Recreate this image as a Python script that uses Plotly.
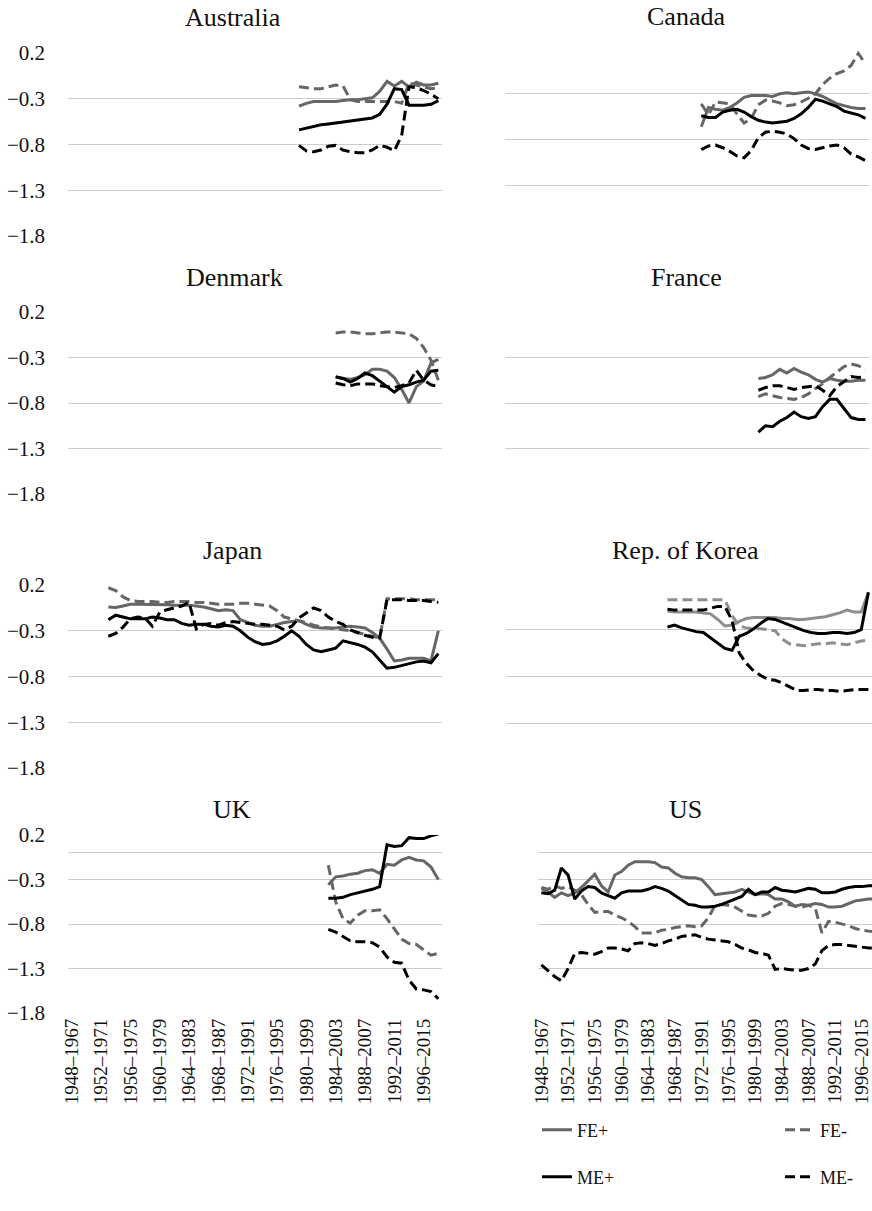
import plotly.graph_objects as go
from plotly.subplots import make_subplots

W, H = 872, 1211

# rolling 20-year windows: 1948–1967 ... 1998–2017
periods = [f"{y}–{y + 19}" for y in range(1948, 1999)]
tick_pos = list(range(0, 49, 4))
tick_text = [periods[i] for i in tick_pos]

y_ticks = [0.2, -0.3, -0.8, -1.3, -1.8]
y_tick_text = ["0.2", "−0.3", "−0.8", "−1.3", "−1.8"]

# index of the first window with data, then FE+, FE-, ME+, ME-
aus_start = 31
aus_fe_pos = [-0.38, -0.35, -0.33, -0.33, -0.33, -0.33, -0.32, -0.31, -0.31, -0.30,
              -0.29, -0.22, -0.11, -0.16, -0.11, -0.17, -0.12, -0.15, -0.15, -0.13]
aus_fe_neg = [-0.17, -0.18, -0.19, -0.19, -0.17, -0.15, -0.16, -0.31, -0.33, -0.33,
              -0.33, -0.33, -0.33, -0.33, -0.35, -0.13, -0.15, -0.17, -0.19, -0.18]
aus_me_pos = [-0.64, -0.62, -0.60, -0.585, -0.575, -0.565, -0.555, -0.545, -0.535, -0.525,
              -0.51, -0.47, -0.36, -0.19, -0.20, -0.37, -0.37, -0.37, -0.36, -0.32]
aus_me_neg = [-0.81, -0.87, -0.88, -0.86, -0.82, -0.81, -0.86, -0.88, -0.89, -0.89,
              -0.86, -0.81, -0.83, -0.87, -0.70, -0.17, -0.18, -0.21, -0.25, -0.30]

can_start = 27
can_fe_pos = [-0.66, -0.45, -0.47, -0.48, -0.45, -0.40, -0.34, -0.32, -0.32, -0.32, -0.33, -0.30,
              -0.29, -0.30, -0.29, -0.28, -0.30, -0.33, -0.37, -0.41, -0.43, -0.45, -0.46, -0.46]
can_fe_neg = [-0.41, -0.53, -0.39, -0.40, -0.41, -0.52, -0.62, -0.57, -0.42, -0.37, -0.38, -0.40,
              -0.43, -0.42, -0.39, -0.35, -0.30, -0.20, -0.13, -0.08, -0.05, 0.01, 0.14, 0.03]
can_me_pos = [-0.54, -0.56, -0.56, -0.50, -0.48, -0.47, -0.50, -0.55, -0.59, -0.61, -0.62, -0.61,
              -0.60, -0.57, -0.52, -0.45, -0.36, -0.38, -0.41, -0.44, -0.49, -0.51, -0.53, -0.57]
can_me_neg = [-0.91, -0.87, -0.86, -0.89, -0.93, -0.98, -1.00, -0.92, -0.78, -0.72, -0.71, -0.72,
              -0.74, -0.79, -0.86, -0.90, -0.91, -0.89, -0.87, -0.86, -0.89, -0.96, -0.99, -1.03]

den_start = 36
den_fe_pos = [-0.52, -0.53, -0.54, -0.52, -0.49, -0.43, -0.43, -0.45, -0.52, -0.65,
              -0.80, -0.62, -0.56, -0.36, -0.32]
den_fe_neg = [-0.03, -0.02, -0.02, -0.03, -0.04, -0.04, -0.03, -0.02, -0.02, -0.03,
              -0.04, -0.09, -0.19, -0.33, -0.55]
den_me_pos = [-0.51, -0.53, -0.57, -0.53, -0.47, -0.50, -0.56, -0.62, -0.68, -0.62,
              -0.60, -0.57, -0.55, -0.45, -0.44]
den_me_neg = [-0.58, -0.60, -0.61, -0.59, -0.59, -0.59, -0.61, -0.62, -0.63, -0.61,
              -0.58, -0.44, -0.55, -0.60, -0.62]

fra_start = 35
fra_fe_pos = [-0.53, -0.52, -0.49, -0.43, -0.47, -0.42, -0.46, -0.49, -0.54, -0.57,
              -0.53, -0.55, -0.56, -0.56, -0.55, -0.55]
fra_fe_neg = [-0.73, -0.70, -0.72, -0.74, -0.75, -0.76, -0.74, -0.70, -0.64, -0.59,
              -0.52, -0.46, -0.40, -0.37, -0.39, -0.43]
fra_me_pos = [-1.12, -1.05, -1.06, -1.00, -0.96, -0.90, -0.95, -0.97, -0.95, -0.84,
              -0.76, -0.76, -0.86, -0.96, -0.98, -0.98]
fra_me_neg = [-0.66, -0.63, -0.61, -0.61, -0.63, -0.65, -0.63, -0.62, -0.61, -0.66,
              -0.72, -0.62, -0.56, -0.51, -0.52, -0.51]

jpn_start = 5
jpn_fe_pos = [-0.04, -0.045, -0.03, -0.01, -0.01, -0.01, -0.01, -0.01, -0.015, -0.02,
              -0.02, -0.02, -0.03, -0.04, -0.06, -0.08, -0.07, -0.08, -0.18, -0.21,
              -0.24, -0.25, -0.25, -0.23, -0.21, -0.20, -0.19, -0.23, -0.26, -0.27,
              -0.27, -0.27, -0.26, -0.25, -0.26, -0.27, -0.32, -0.38, -0.50, -0.63,
              -0.62, -0.60, -0.60, -0.60, -0.63, -0.30]
jpn_fe_neg = [0.17, 0.14, 0.07, 0.03, 0.02, 0.02, 0.02, 0.01, 0.01, 0.02,
              0.02, 0.02, 0.01, 0.01, 0.00, -0.01, -0.01, -0.01, 0.00, 0.00,
              -0.01, -0.02, -0.03, -0.08, -0.15, -0.17, -0.19, -0.21, -0.24, -0.26,
              -0.27, -0.28, -0.29, -0.30, -0.32, -0.34, -0.36, -0.38, 0.05, 0.05,
              0.05, 0.05, 0.04, 0.04, 0.04, 0.04]
jpn_me_pos = [-0.18, -0.13, -0.15, -0.17, -0.17, -0.17, -0.15, -0.16, -0.18, -0.18,
              -0.22, -0.24, -0.23, -0.23, -0.25, -0.26, -0.24, -0.25, -0.30, -0.37,
              -0.42, -0.45, -0.44, -0.41, -0.36, -0.30, -0.36, -0.45, -0.51, -0.53,
              -0.51, -0.49, -0.41, -0.43, -0.45, -0.48, -0.53, -0.62, -0.71, -0.70,
              -0.68, -0.66, -0.64, -0.63, -0.65, -0.55]
jpn_me_neg = [-0.36, -0.33, -0.26, -0.17, -0.15, -0.16, -0.25, -0.10, -0.07, -0.05,
              -0.03, 0.01, -0.28, -0.23, -0.22, -0.24, -0.21, -0.20, -0.21, -0.22,
              -0.23, -0.23, -0.24, -0.25, -0.29, -0.25, -0.16, -0.10, -0.05, -0.08,
              -0.15, -0.20, -0.23, -0.29, -0.32, -0.35, -0.37, -0.38, 0.04, 0.04,
              0.04, 0.03, 0.03, 0.03, 0.02, 0.01]

kor_start = 22
kor_fe_pos = [-0.10, -0.11, -0.11, -0.11, -0.11, -0.12, -0.13, -0.19, -0.26, -0.25,
              -0.21, -0.18, -0.17, -0.17, -0.17, -0.17, -0.18, -0.18, -0.19, -0.19,
              -0.18, -0.17, -0.16, -0.14, -0.12, -0.09, -0.11, -0.11, 0.10]
kor_fe_neg = [0.02, 0.02, 0.02, 0.02, 0.015, 0.015, 0.015, 0.02, 0.02, -0.15,
              -0.26, -0.28, -0.29, -0.29, -0.30, -0.31, -0.40, -0.45, -0.46, -0.47,
              -0.46, -0.45, -0.45, -0.44, -0.45, -0.46, -0.44, -0.42, -0.41]
kor_me_pos = [-0.27, -0.25, -0.28, -0.30, -0.32, -0.33, -0.39, -0.45, -0.50, -0.52,
              -0.37, -0.34, -0.29, -0.23, -0.18, -0.19, -0.22, -0.25, -0.28, -0.31,
              -0.33, -0.34, -0.34, -0.33, -0.33, -0.34, -0.33, -0.30, 0.10]
kor_me_neg = [-0.08, -0.09, -0.09, -0.09, -0.09, -0.09, -0.07, -0.05, -0.05, -0.20,
              -0.55, -0.66, -0.74, -0.79, -0.83, -0.84, -0.87, -0.91, -0.95, -0.95,
              -0.94, -0.94, -0.95, -0.95, -0.96, -0.95, -0.94, -0.94, -0.94]

uk_start = 35
uk_fe_pos = [-0.36, -0.27, -0.26, -0.24, -0.23, -0.20, -0.19, -0.23, -0.13, -0.14,
             -0.08, -0.05, -0.08, -0.09, -0.16, -0.30]
uk_fe_neg = [-0.14, -0.55, -0.74, -0.79, -0.70, -0.65, -0.65, -0.64, -0.74, -0.86,
             -0.97, -1.02, -1.03, -1.09, -1.15, -1.13]
uk_me_pos = [-0.51, -0.51, -0.50, -0.47, -0.45, -0.43, -0.41, -0.38, 0.09, 0.07,
             0.08, 0.17, 0.16, 0.16, 0.19, 0.21]
uk_me_neg = [-0.86, -0.89, -0.94, -0.99, -1.00, -1.00, -1.01, -1.06, -1.17, -1.23,
             -1.24, -1.43, -1.53, -1.54, -1.56, -1.64]

us_start = 0
us_fe_pos = [-0.40, -0.44, -0.50, -0.45, -0.48, -0.45, -0.39, -0.31, -0.24, -0.37,
             -0.44, -0.25, -0.21, -0.14, -0.10, -0.10, -0.10, -0.11, -0.16, -0.17,
             -0.23, -0.27, -0.28, -0.28, -0.30, -0.38, -0.47, -0.46, -0.45, -0.44,
             -0.41, -0.44, -0.47, -0.46, -0.47, -0.52, -0.52, -0.55, -0.60, -0.58,
             -0.59, -0.57, -0.58, -0.61, -0.61, -0.60, -0.57, -0.54, -0.53, -0.52, -0.52]
us_fe_neg = [-0.39, -0.41, -0.37, -0.40, -0.38, -0.42, -0.47, -0.58, -0.67, -0.66,
             -0.66, -0.70, -0.73, -0.77, -0.83, -0.90, -0.90, -0.90, -0.87, -0.86,
             -0.84, -0.83, -0.82, -0.83, -0.82, -0.73, -0.59, -0.58, -0.59, -0.61,
             -0.66, -0.70, -0.71, -0.71, -0.68, -0.60, -0.57, -0.58, -0.60, -0.61,
             -0.59, -0.62, -0.90, -0.77, -0.78, -0.80, -0.82, -0.85, -0.87, -0.88, -0.89]
us_me_pos = [-0.45, -0.46, -0.42, -0.17, -0.25, -0.52, -0.43, -0.38, -0.39, -0.45,
             -0.48, -0.51, -0.45, -0.43, -0.43, -0.43, -0.41, -0.38, -0.40, -0.43,
             -0.48, -0.53, -0.58, -0.59, -0.61, -0.61, -0.60, -0.58, -0.55, -0.52,
             -0.49, -0.41, -0.47, -0.44, -0.44, -0.39, -0.42, -0.43, -0.44, -0.42,
             -0.40, -0.41, -0.45, -0.45, -0.44, -0.41, -0.39, -0.38, -0.38, -0.37, -0.37]
us_me_neg = [-1.26, -1.33, -1.39, -1.44, -1.30, -1.13, -1.12, -1.13, -1.14, -1.11,
             -1.07, -1.07, -1.08, -1.10, -1.02, -1.01, -1.02, -1.04, -1.02, -0.99,
             -0.97, -0.94, -0.93, -0.92, -0.95, -0.97, -0.98, -0.99, -1.00, -1.03,
             -1.07, -1.09, -1.12, -1.13, -1.15, -1.31, -1.30, -1.31, -1.32, -1.32,
             -1.30, -1.25, -1.10, -1.04, -1.03, -1.03, -1.04, -1.05, -1.06, -1.07, -1.07]

countries = [
    ("Australia", aus_start, [aus_fe_pos, aus_fe_neg, aus_me_pos, aus_me_neg]),
    ("Canada", can_start, [can_fe_pos, can_fe_neg, can_me_pos, can_me_neg]),
    ("Denmark", den_start, [den_fe_pos, den_fe_neg, den_me_pos, den_me_neg]),
    ("France", fra_start, [fra_fe_pos, fra_fe_neg, fra_me_pos, fra_me_neg]),
    ("Japan", jpn_start, [jpn_fe_pos, jpn_fe_neg, jpn_me_pos, jpn_me_neg]),
    ("Rep. of Korea", kor_start, [kor_fe_pos, kor_fe_neg, kor_me_pos, kor_me_neg]),
    ("UK", uk_start, [uk_fe_pos, uk_fe_neg, uk_me_pos, uk_me_neg]),
    ("US", us_start, [us_fe_pos, us_fe_neg, us_me_pos, us_me_neg]),
]
series_names = ["FE+", "FE-", "ME+", "ME-"]

# panel geometry in pixels: plot left, right, top (0.2 line), bottom (-1.8 line)
panel_px = [
    (68, 442, 53, 236), (505, 869, 48, 231),
    (68, 442, 312, 494), (505, 869, 312, 494),
    (68, 442, 585, 768), (506, 872, 583, 770),
    (68, 442, 835, 1013), (538, 872, 835, 1013),
]
# title centres in pixels
title_px = [(233, 18), (686, 17), (234, 277), (686, 277),
            (233, 550), (685, 550), (232, 809), (685, 809)]

GREY = "#666666"
LIGHT_GREY = "#8e8e8e"
DASH = "10px,5px"
SERIF = "Liberation Serif, Times New Roman, serif"
GRID = "#cccccc"

fig = make_subplots(rows=4, cols=2)

legend_ids = ["legend", "legend2", "legend3", "legend4"]

for k, (name, start, series) in enumerate(countries):
    row, col = k // 2 + 1, k % 2 + 1
    grey = LIGHT_GREY if name == "Rep. of Korea" else GREY
    colors = [grey, grey, "black", "black"]
    dashes = ["solid", DASH, "solid", DASH]
    for s, values in enumerate(series):
        xs = list(range(start, start + len(values)))
        fig.add_trace(
            go.Scatter(
                x=xs, y=values, mode="lines", name=series_names[s],
                line=dict(color=colors[s], width=3, dash=dashes[s]),
                showlegend=(k == 0), legend=legend_ids[s],
                hovertext=[periods[i] for i in xs],
            ),
            row=row, col=col,
        )

    left, right, top, bottom = panel_px[k]
    x_end = 50.5
    if name == "US":
        # the right edge of this panel is cut off in the original
        x_end = 49.5
    bottom_row = row == 4
    fig.update_xaxes(
        domain=[left / W, right / W], range=[-0.5, x_end],
        showgrid=False, zeroline=False, showline=False,
        tickmode="array", tickvals=tick_pos, ticktext=tick_text,
        showticklabels=bottom_row, tickangle=-90, ticks="",
        ticklabelstandoff=1, ticklabeloverflow="allow", automargin=False,
        tickfont=dict(family=SERIF, size=19, color="#111111"),
        row=row, col=col,
    )
    fig.update_yaxes(
        domain=[1 - bottom / H, 1 - top / H], range=[-1.8, 0.2],
        tickmode="array", tickvals=y_ticks, ticktext=y_tick_text,
        showticklabels=(col == 1), ticks="", ticklabelstandoff=22,
        showgrid=True, gridcolor=GRID, gridwidth=1.3,
        zeroline=bottom_row, zerolinecolor=GRID, zerolinewidth=1.3,
        showline=False, automargin=False,
        tickfont=dict(family=SERIF, size=21, color="#111111"),
        row=row, col=col,
    )

    tx, ty = title_px[k]
    fig.add_annotation(
        text=name, x=tx / W, y=1 - ty / H, xref="paper", yref="paper",
        xanchor="center", yanchor="middle", showarrow=False,
        font=dict(family=SERIF, size=26, color="#111111"),
    )

legend_font = dict(family=SERIF, size=18, color="#111111")
legend_pos = [(537, 1130), (780, 1130), (537, 1177), (780, 1177)]
for lid, (lx, ly) in zip(legend_ids, legend_pos):
    fig.update_layout({
        lid: dict(
            x=lx / W, y=1 - ly / H, xanchor="left", yanchor="middle",
            font=legend_font, bgcolor="rgba(0,0,0,0)", borderwidth=0,
        )
    })

fig.update_layout(
    width=W, height=H, autosize=False,
    margin=dict(l=0, r=0, t=0, b=0),
    paper_bgcolor="white", plot_bgcolor="white",
    hovermode="closest",
)

# drop the browser's default body margin so the figure sits at the page corner
fig.write_html(
    "out.html",
    config={"displayModeBar": False},
    post_script="document.body.style.margin = '0';",
)
